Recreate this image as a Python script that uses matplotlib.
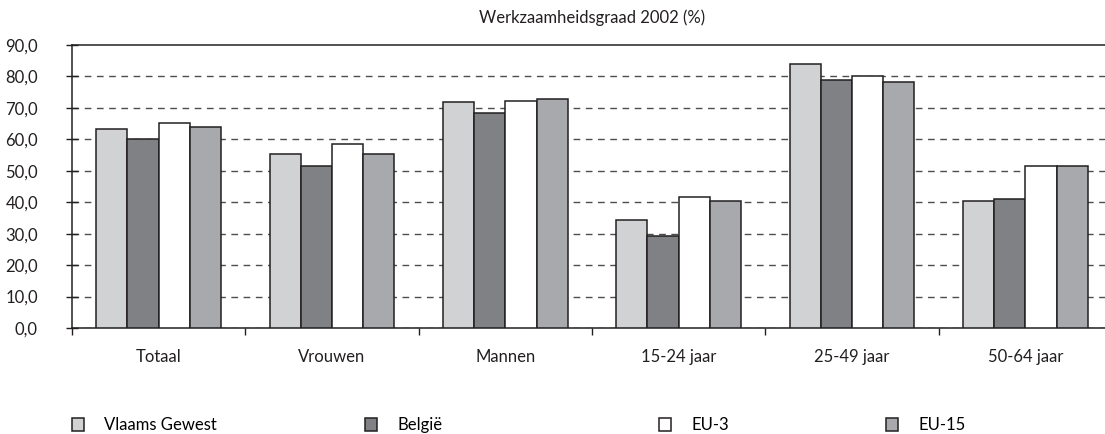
import matplotlib
matplotlib.use("Agg")
import matplotlib.pyplot as plt
import numpy as np

categories = ["Totaal", "Vrouwen", "Mannen", "15-24 jaar", "25-49 jaar", "50-64 jaar"]
series_names = ["Vlaams Gewest", "België", "EU-3", "EU-15"]
vlaams = [63.3, 55.3, 71.8, 34.5, 84.1, 40.3]
belgie = [60.0, 51.5, 68.5, 29.4, 78.9, 40.9]
eu3 = [65.2, 58.6, 72.3, 41.8, 80.2, 51.4]
eu15 = [63.8, 55.3, 72.9, 40.4, 78.2, 51.4]
y_ticks = [0, 10, 20, 30, 40, 50, 60, 70, 80, 90]
y_tick_labels = ["0,0", "10,0", "20,0", "30,0", "40,0", "50,0", "60,0", "70,0", "80,0", "90,0"]
title = "Werkzaamheidsgraad 2002 (%)"

colors = ["#d1d2d4", "#808184", "#ffffff", "#a7a9ac"]
edge = "#231f20"
FONT = "Lato"
W, H = 1105, 434

fig = plt.figure(figsize=(11.05, 4.34), dpi=100)

# fit font size so the title is ~227 px wide, as in the reference
probe = fig.text(0, 0, title, fontfamily=FONT, fontsize=11)
fig.canvas.draw()
w = probe.get_window_extent().width
probe.remove()
FS = 11 * 227.0 / w

ax = fig.add_axes([72 / W, 1 - 328 / H, 1040 / W, (328 - 45) / H])

x = np.arange(len(categories))
bw = 0.18
offsets = [-1.5 * bw, -0.5 * bw, 0.5 * bw, 1.5 * bw]
containers = []
for vals, off, c, name in zip([vlaams, belgie, eu3, eu15], offsets, colors, series_names):
    bc = ax.bar(x + off, vals, width=bw, color=c, edgecolor=edge, linewidth=1.1, zorder=3, label=name)
    containers.append(bc)

ax.set_xlim(-0.5, len(categories) - 0.5)
ax.set_ylim(0, 90)
ax.set_yticks(y_ticks)
ax.set_yticklabels(y_tick_labels, fontfamily=FONT, fontsize=FS, color="#231f20")
ax.tick_params(axis="y", direction="inout", length=9, width=1, pad=20, colors="#231f20")
ax.yaxis.grid(True, linestyle=(0, (4.8, 4.0)), linewidth=1.0, color="#4d4d4d", zorder=0)
ax.yaxis.get_gridlines()[-1].set_visible(False)

ax.set_xticks(x)
ax.set_xticklabels(categories, fontfamily=FONT, fontsize=FS, color="#231f20")
ax.tick_params(axis="x", which="major", length=0, pad=15)
ax.set_xticks(np.arange(-0.5, len(categories)), minor=True)
ax.tick_params(axis="x", which="minor", direction="out", length=5, width=1, color="#231f20")

for s in ["left", "bottom", "top"]:
    ax.spines[s].set_color("#231f20")
    ax.spines[s].set_linewidth(1.1)
ax.spines["right"].set_visible(False)

fig.text(592 / W, 1 - 18 / H, title, ha="center", va="center", fontfamily=FONT, fontsize=FS, color="#231f20")

leg_x = [72, 365, 659, 886]
for bc, name, lx in zip(containers, series_names, leg_x):
    fig.legend(handles=[bc], labels=[name], loc="center left", bbox_to_anchor=(lx / W, 1 - 425 / H),
               frameon=False, prop={"family": FONT, "size": FS}, handlelength=0.75, handleheight=0.8,
               handletextpad=1.2, borderpad=0, borderaxespad=0)

fig.savefig("out.png", dpi=100)
